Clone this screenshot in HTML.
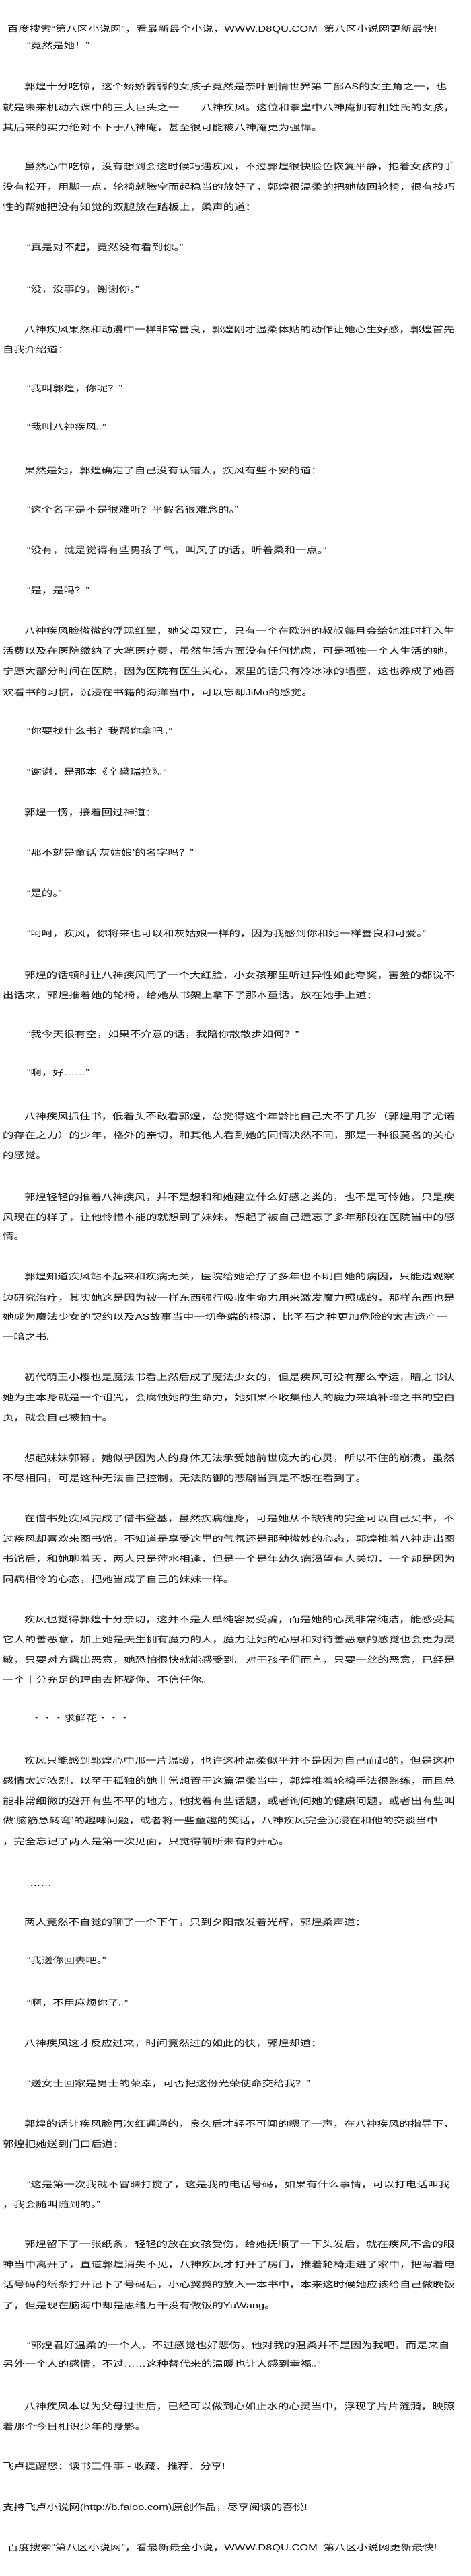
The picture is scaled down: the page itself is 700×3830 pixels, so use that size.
<!DOCTYPE html>
<html><head><meta charset="utf-8">
<style>
html,body{margin:0;padding:0;background:#fff;}
body{width:700px;height:3830px;position:relative;overflow:hidden;}
.l{position:absolute;left:4px;height:20px;line-height:20px;font-size:16.4px;white-space:nowrap;color:#111;
font-family:"Liberation Sans","Noto Sans CJK SC",sans-serif;transform:scaleY(.76);transform-origin:0 50%;}
.p{left:36px}.q{left:40px}.h{left:11px}
</style></head><body>
<div class="l h" style="top:33px">百度搜索“第八区小说网”，看最新最全小说，WWW.D8QU.COM&nbsp;&nbsp;第八区小说网更新最快!</div>
<div class="l q" style="top:58px">“竟然是她！”</div>
<div class="l p" style="top:119px">郭煌十分吃惊，这个娇娇弱弱的女孩子竟然是奈叶剧情世界第二部AS的女主角之一，也</div>
<div class="l" style="top:150px">就是未来机动六课中的三大巨头之一——八神疾风。这位和拳皇中八神庵拥有相姓氏的女孩，</div>
<div class="l" style="top:180px">其后来的实力绝对不下于八神庵，甚至很可能被八神庵更为强悍。</div>
<div class="l p" style="top:238px">虽然心中吃惊，没有想到会这时候巧遇疾风，不过郭煌很快脸色恢复平静，抱着女孩的手</div>
<div class="l" style="top:268px">没有松开，用脚一点，轮椅就腾空而起稳当的放好了，郭煌很温柔的把她放回轮椅，很有技巧</div>
<div class="l" style="top:298px">性的帮她把没有知觉的双腿放在踏板上，柔声的道：</div>
<div class="l q" style="top:358px">“真是对不起，竟然没有看到你。”</div>
<div class="l q" style="top:420px">“没，没事的，谢谢你。”</div>
<div class="l p" style="top:480px">八神疾风果然和动漫中一样非常善良，郭煌刚才温柔体贴的动作让她心生好感，郭煌首先</div>
<div class="l" style="top:510px">自我介绍道：</div>
<div class="l q" style="top:568px">“我叫郭煌，你呢？”</div>
<div class="l q" style="top:625px">“我叫八神疾风。”</div>
<div class="l p" style="top:690px">果然是她，郭煌确定了自己没有认错人，疾风有些不安的道：</div>
<div class="l q" style="top:748px">“这个名字是不是很难听？平假名很难念的。”</div>
<div class="l q" style="top:808px">“没有，就是觉得有些男孩子气，叫风子的话，听着柔和一点。”</div>
<div class="l q" style="top:868px">“是，是吗？”</div>
<div class="l p" style="top:928px">八神疾风脸微微的浮现红晕，她父母双亡，只有一个在欧洲的叔叔每月会给她准时打入生</div>
<div class="l" style="top:958px">活费以及在医院缴纳了大笔医疗费，虽然生活方面没有任何忧虑，可是孤独一个人生活的她，</div>
<div class="l" style="top:988px">宁愿大部分时间在医院，因为医院有医生关心，家里的话只有冷冰冰的墙壁，这也养成了她喜</div>
<div class="l" style="top:1020px">欢看书的习惯，沉浸在书籍的海洋当中，可以忘却JiMo的感觉。</div>
<div class="l q" style="top:1077px">“你要找什么书？我帮你拿吧。”</div>
<div class="l q" style="top:1138px">“谢谢，是那本《辛黛瑞拉》。”</div>
<div class="l p" style="top:1198px">郭煌一愣，接着回过神道：</div>
<div class="l q" style="top:1258px">“那不就是童话‘灰姑娘’的名字吗？”</div>
<div class="l q" style="top:1318px">“是的。”</div>
<div class="l q" style="top:1378px">“呵呵，疾风，你将来也可以和灰姑娘一样的，因为我感到你和她一样善良和可爱。”</div>
<div class="l p" style="top:1440px">郭煌的话顿时让八神疾风闹了一个大红脸，小女孩那里听过异性如此夸奖，害羞的都说不</div>
<div class="l" style="top:1470px">出话来，郭煌推着她的轮椅，给她从书架上拿下了那本童话，放在她手上道：</div>
<div class="l q" style="top:1528px">“我今天很有空，如果不介意的话，我陪你散散步如何？”</div>
<div class="l q" style="top:1585px">“啊，好……”</div>
<div class="l p" style="top:1650px">八神疾风抓住书，低着头不敢看郭煌，总觉得这个年龄比自己大不了几岁（郭煌用了尤诺</div>
<div class="l" style="top:1678px">的存在之力）的少年，格外的亲切，和其他人看到她的同情决然不同，那是一种很莫名的关心</div>
<div class="l" style="top:1708px">的感觉。</div>
<div class="l p" style="top:1770px">郭煌轻轻的推着八神疾风，并不是想和和她建立什么好感之类的，也不是可怜她，只是疾</div>
<div class="l" style="top:1800px">风现在的样子，让他怜惜本能的就想到了妹妹，想起了被自己遗忘了多年那段在医院当中的感</div>
<div class="l" style="top:1828px">情。</div>
<div class="l p" style="top:1888px">郭煌知道疾风站不起来和疾病无关，医院给她治疗了多年也不明白她的病因，只能边观察</div>
<div class="l" style="top:1920px">边研究治疗，其实她这是因为被一样东西强行吸收生命力用来激发魔力照成的，那样东西也是</div>
<div class="l" style="top:1948px">她成为魔法少女的契约以及AS故事当中一切争端的根源，比圣石之种更加危险的太古遗产一</div>
<div class="l" style="top:1978px">一暗之书。</div>
<div class="l p" style="top:2038px">初代萌王小樱也是魔法书看上然后成了魔法少女的，但是疾风可没有那么幸运，暗之书认</div>
<div class="l" style="top:2068px">她为主本身就是一个诅咒，会腐蚀她的生命力，她如果不收集他人的魔力来填补暗之书的空白</div>
<div class="l" style="top:2098px">页，就会自己被抽干。</div>
<div class="l p" style="top:2158px">想起妹妹郭幂，她似乎因为人的身体无法承受她前世庞大的心灵，所以不住的崩溃，虽然</div>
<div class="l" style="top:2188px">不尽相同，可是这种无法自己控制，无法防御的悲剧当真是不想在看到了。</div>
<div class="l p" style="top:2248px">在借书处疾风完成了借书登基，虽然疾病缠身，可是她从不缺钱的完全可以自己买书，不</div>
<div class="l" style="top:2278px">过疾风却喜欢来图书馆，不知道是享受这里的气氛还是那种微妙的心态，郭煌推着八神走出图</div>
<div class="l" style="top:2308px">书馆后，和她聊着天，两人只是萍水相逢，但是一个是年幼久病渴望有人关切，一个却是因为</div>
<div class="l" style="top:2338px">同病相怜的心态，把她当成了自己的妹妹一样。</div>
<div class="l p" style="top:2398px">疾风也觉得郭煌十分亲切，这并不是人单纯容易受骗，而是她的心灵非常纯洁，能感受其</div>
<div class="l" style="top:2428px">它人的善恶意，加上她是天生拥有魔力的人，魔力让她的心思和对待善恶意的感觉也会更为灵</div>
<div class="l" style="top:2458px">敏，只要对方露出恶意，她恐怕很快就能感受到。对于孩子们而言，只要一丝的恶意，已经是</div>
<div class="l" style="top:2488px">一个十分充足的理由去怀疑你、不信任你。</div>
<div class="l" style="top:2545px;left:46px">・・・求鲜花・・・</div>
<div class="l p" style="top:2608px">疾风只能感到郭煌心中那一片温暖，也许这种温柔似乎并不是因为自己而起的，但是这种</div>
<div class="l" style="top:2638px">感情太过浓烈，以至于孤独的她非常想置于这篇温柔当中，郭煌推着轮椅手法很熟练，而且总</div>
<div class="l" style="top:2668px">能非常细微的避开有些不平的地方，他找着有些话题，或者询问她的健康问题，或者出有些叫</div>
<div class="l" style="top:2697px">做‘脑筋急转弯’的趣味问题，或者将一些童趣的笑话，八神疾风完全沉浸在和他的交谈当中</div>
<div class="l" style="top:2728px">，完全忘记了两人是第一次见面，只觉得前所未有的开心。</div>
<div class="l" style="top:2790px;left:44px">……</div>
<div class="l p" style="top:2848px">两人竟然不自觉的聊了一个下午，只到夕阳散发着光辉，郭煌柔声道：</div>
<div class="l q" style="top:2905px">“我送你回去吧。”</div>
<div class="l q" style="top:2968px">“啊，不用麻烦你了。”</div>
<div class="l p" style="top:3028px">八神疾风这才反应过来，时间竟然过的如此的快，郭煌却道：</div>
<div class="l q" style="top:3088px">“送女士回家是男士的荣幸，可否把这份光荣使命交给我？”</div>
<div class="l p" style="top:3148px">郭煌的话让疾风脸再次红通通的，良久后才轻不可闻的嗯了一声，在八神疾风的指导下，</div>
<div class="l" style="top:3178px">郭煌把她送到门口后道：</div>
<div class="l q" style="top:3238px">“这是第一次我就不冒昧打搅了，这是我的电话号码，如果有什么事情，可以打电话叫我</div>
<div class="l" style="top:3268px">，我会随叫随到的。”</div>
<div class="l p" style="top:3327px">郭煌留下了一张纸条，轻轻的放在女孩受伤，给她抚顺了一下头发后，就在疾风不舍的眼</div>
<div class="l" style="top:3357px">神当中离开了，直道郭煌消失不见，八神疾风才打开了房门，推着轮椅走进了家中，把写着电</div>
<div class="l" style="top:3387px">话号码的纸条打开记下了号码后，小心翼翼的放入一本书中，本来这时候她应该给自己做晚饭</div>
<div class="l" style="top:3418px">了，但是现在脑海中却是思绪万千没有做饭的YuWang。</div>
<div class="l q" style="top:3477px">“郭煌君好温柔的一个人，不过感觉也好悲伤，他对我的温柔并不是因为我吧，而是来自</div>
<div class="l" style="top:3505px">另外一个人的感情，不过……这种替代来的温暖也让人感到幸福。”</div>
<div class="l p" style="top:3568px">八神疾风本以为父母过世后，已经可以做到心如止水的心灵当中，浮现了片片涟漪，映照</div>
<div class="l" style="top:3598px">着那个今日相识少年的身影。</div>
<div class="l" style="top:3657px">飞卢提醒您：读书三件事 - 收藏、推荐、分享!</div>
<div class="l" style="top:3718px">支持飞卢小说网(http://b.faloo.com)原创作品，尽享阅读的喜悦!</div>
<div class="l h" style="top:3778px">百度搜索“第八区小说网”，看最新最全小说，WWW.D8QU.COM&nbsp;&nbsp;第八区小说网更新最快!</div>
</body></html>
